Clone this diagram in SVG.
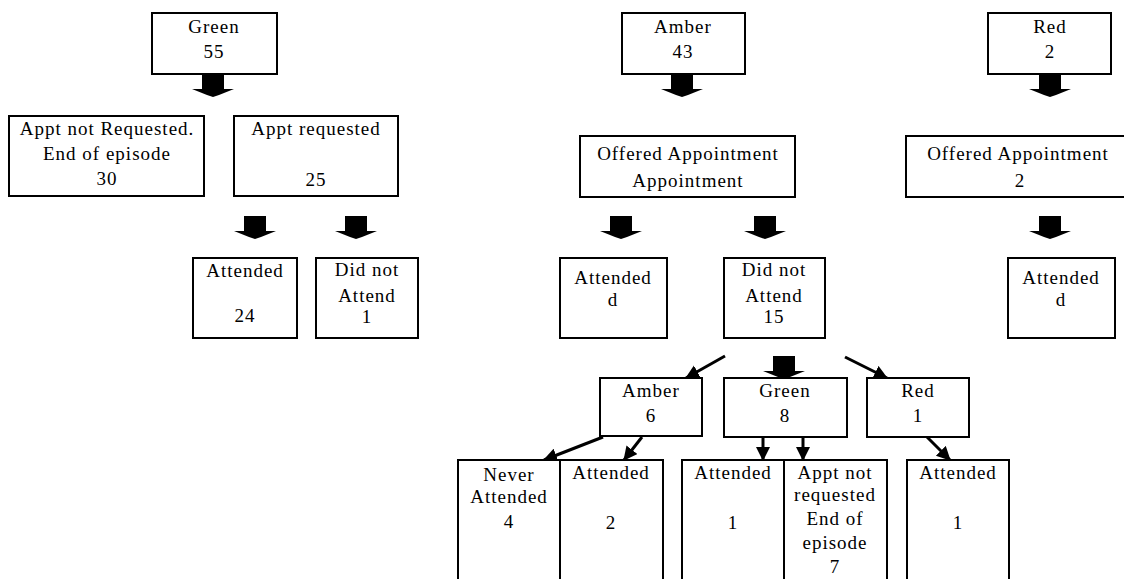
<svg xmlns="http://www.w3.org/2000/svg" width="1124" height="579" viewBox="0 0 1124 579">
<style>
.box{fill:#fff;stroke:#000;stroke-width:2}
text{font-family:"Liberation Serif","Times New Roman",serif;font-size:19px;letter-spacing:1px;fill:#000;text-anchor:middle}
.ln{stroke:#000;stroke-width:3;fill:none}
.blk{fill:#000}
</style>
<defs>
<polygon id="barrow" points="-11,0 11,0 11,15 21,15 6,21 0,23 -6,21 -21,15 -11,15"/>
<marker id="ah" markerUnits="userSpaceOnUse" markerWidth="16" markerHeight="16" refX="13" refY="7" orient="auto">
<path d="M0,0 L14,7 L0,14 Z" fill="#000"/>
</marker>
</defs>
<rect width="1124" height="579" fill="#fff"/>
<g id="connectors">
<use href="#barrow" class="blk" x="213" y="74"/>
<use href="#barrow" class="blk" x="682" y="74"/>
<use href="#barrow" class="blk" x="1050" y="74"/>
<use href="#barrow" class="blk" x="255" y="216"/>
<use href="#barrow" class="blk" x="356" y="216"/>
<use href="#barrow" class="blk" x="621" y="216"/>
<use href="#barrow" class="blk" x="765" y="216"/>
<use href="#barrow" class="blk" x="1050" y="216"/>
<use href="#barrow" class="blk" x="784" y="356"/>
<line class="ln" x1="725" y1="356" x2="686" y2="378" marker-end="url(#ah)"/>
<line class="ln" x1="845" y1="357" x2="887" y2="378" marker-end="url(#ah)"/>
<line class="ln" x1="603" y1="437" x2="544" y2="460" marker-end="url(#ah)"/>
<line class="ln" x1="642" y1="437" x2="624" y2="460" marker-end="url(#ah)"/>
<line class="ln" x1="763" y1="437" x2="763" y2="460" marker-end="url(#ah)"/>
<line class="ln" x1="803" y1="437" x2="803" y2="460" marker-end="url(#ah)"/>
<line class="ln" x1="927" y1="437" x2="950" y2="460" marker-end="url(#ah)"/>
</g>
<g id="green55"><rect class="box" x="152" y="13" width="125" height="61"/><text x="214" y="33">Green</text><text x="214" y="58">55</text></g>
<g id="amber43"><rect class="box" x="622" y="13" width="123" height="61"/><text x="683" y="33">Amber</text><text x="683" y="58">43</text></g>
<g id="red2"><rect class="box" x="988" y="13" width="123" height="61"/><text x="1050" y="33">Red</text><text x="1050" y="58">2</text></g>
<g id="apptNotRequested"><rect class="box" x="9" y="116" width="195" height="80"/><text x="107" y="135">Appt not Requested.</text><text x="107" y="160">End of episode</text><text x="107" y="185">30</text></g>
<g id="apptRequested"><rect class="box" x="234" y="116" width="164" height="80"/><text x="316" y="135">Appt requested</text><text x="316" y="186">25</text></g>
<g id="offeredAmber"><rect class="box" x="580" y="136" width="215" height="61"/><text x="688" y="160">Offered Appointment</text><text x="688" y="187">Appointment</text></g>
<g id="offeredRed"><rect class="box" x="906" y="136" width="230" height="61"/><text x="1018" y="160">Offered Appointment</text><text x="1020" y="187">2</text></g>
<g id="attended24"><rect class="box" x="193" y="258" width="104" height="80"/><text x="245" y="277">Attended</text><text x="245" y="322">24</text></g>
<g id="dna1"><rect class="box" x="316" y="258" width="102" height="80"/><text x="367" y="276">Did not</text><text x="367" y="302">Attend</text><text x="367" y="323">1</text></g>
<g id="attendedAmber"><rect class="box" x="560" y="258" width="107" height="80"/><text x="613" y="284">Attended</text><text x="613" y="306">d</text></g>
<g id="dna15"><rect class="box" x="724" y="258" width="101" height="80"/><text x="774" y="276">Did not</text><text x="774" y="302">Attend</text><text x="774" y="323">15</text></g>
<g id="attendedRed"><rect class="box" x="1008" y="258" width="107" height="80"/><text x="1061" y="284">Attended</text><text x="1061" y="306">d</text></g>
<g id="amber6"><rect class="box" x="600" y="378" width="102" height="58"/><text x="651" y="397">Amber</text><text x="651" y="422">6</text></g>
<g id="green8"><rect class="box" x="724" y="378" width="123" height="59"/><text x="785" y="397">Green</text><text x="785" y="422">8</text></g>
<g id="red1"><rect class="box" x="867" y="378" width="102" height="59"/><text x="918" y="397">Red</text><text x="918" y="422">1</text></g>
<g id="neverAttended"><rect class="box" x="458" y="460" width="102" height="140"/><text x="509" y="481">Never</text><text x="509" y="503">Attended</text><text x="509" y="528">4</text></g>
<g id="attended2"><rect class="box" x="560" y="460" width="103" height="140"/><text x="611" y="479">Attended</text><text x="611" y="529">2</text></g>
<g id="attended1a"><rect class="box" x="682" y="460" width="102" height="140"/><text x="733" y="479">Attended</text><text x="733" y="529">1</text></g>
<g id="apptNotRequested7"><rect class="box" x="784" y="460" width="103" height="140"/><text x="835" y="479">Appt not</text><text x="835" y="501">requested</text><text x="835" y="525">End of</text><text x="835" y="549">episode</text><text x="835" y="573">7</text></g>
<g id="attended1b"><rect class="box" x="907" y="460" width="102" height="140"/><text x="958" y="479">Attended</text><text x="958" y="529">1</text></g>
</svg>
